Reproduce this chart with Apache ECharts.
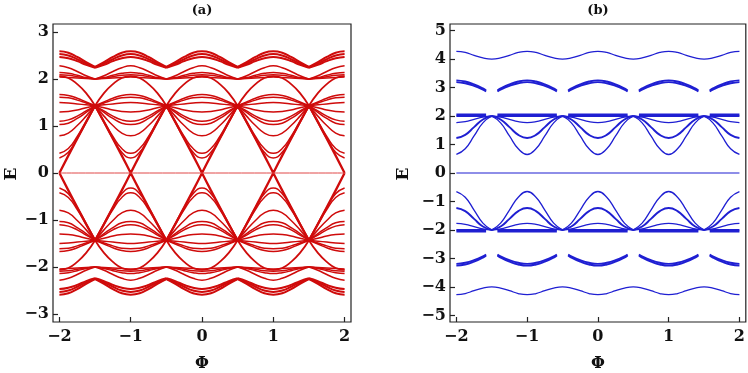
<!DOCTYPE html>
<html>
<head>
<meta charset="utf-8">
<script src="https://cdn.jsdelivr.net/npm/echarts@6/dist/echarts.min.js"></script>
<style>
  html, body { margin: 0; padding: 0; background: #fff; }
  #chart { width: 748px; height: 373px; }
</style>
</head>
<body>
<div id="chart"></div>
<script>
// samples are read at these distances from the nearest integer flux (one half period)
const dSteps = [0, 0.125, 0.25, 0.375, 0.5]

// ---- panel (a), upper half; the lower half is its mirror ----
const aTopBand = [
  [2.59, 2.56, 2.47, 2.36, 2.26],
  [2.53, 2.50, 2.42, 2.33, 2.25],
  [2.47, 2.44, 2.38, 2.30, 2.24]
]
const aTwoGroup = [
  [2.28, 2.24, 2.16, 2.07, 2.0],
  [2.14, 2.12, 2.08, 2.03, 2.0],
  [2.09, 2.08, 2.05, 2.02, 2.0],
  [2.04, 2.03, 2.02, 2.01, 2.0]
]
const aArch = [2.06, 2.02, 1.89, 1.70, 1.43]
const aMid = [
  [1.67, 1.65, 1.59, 1.51, 1.43],
  [1.61, 1.60, 1.55, 1.49, 1.43],
  [1.50, 1.49, 1.47, 1.45, 1.43],
  [1.30, 1.31, 1.34, 1.39, 1.43],
  [1.10, 1.13, 1.21, 1.32, 1.43],
  [1.03, 1.06, 1.16, 1.29, 1.43],
  [0.79, 0.85, 1.01, 1.21, 1.43],
  [0.42, 0.52, 0.78, 1.10, 1.43],
  [0.32, 0.44, 0.73, 1.07, 1.43]
]
const aCross = [0, 0.37, 0.73, 1.09, 1.43] // the X lines through E=0

// ---- panel (b), upper half ----
const bWave = [4.27, 4.23, 4.13, 4.04, 4.0]
const bArcD = [0, 0.125, 0.25, 0.375, 0.42]
const bArcs = [
  [3.25, 3.21, 3.11, 2.97, 2.90],
  [3.19, 3.15, 3.06, 2.93, 2.86]
]
const bFlat = [2.0, 2.05]
const bFlatEnd = 0.42
const bDips = [
  [1.77, 1.80, 1.88, 1.96, 2.0],
  [1.23, 1.34, 1.61, 1.88, 2.0],
  [0.65, 0.85, 1.30, 1.76, 2.0]
]

const periods = [-2, -1, 0, 1, 2]
const xTicks = [-2, -1, 0, 1, 2]
const yTicksA = [-3, -2, -1, 0, 1, 2, 3]
const yTicksB = [-5, -4, -3, -2, -1, 0, 1, 2, 3, 4, 5]

const red = '#cf0b0b'
const blue = '#1f1fd2'
const serif = 'DejaVu Serif'

function inRange(p) {
  return p >= -2.0001 && p <= 2.0001
}

// curve made of arches between the crossing points at half-integer flux
function arches(vals, ds, sign) {
  const pts = []
  periods.forEach(n => {
    const seg = []
    for (let i = ds.length - 1; i > 0; i--) seg.push([n - ds[i], vals[i]])
    for (let i = 0; i < ds.length; i++) seg.push([n + ds[i], vals[i]])
    seg.forEach(p => {
      if (inRange(p[0])) pts.push([p[0], sign * p[1]])
    })
    pts.push([n + 0.5, '-'])
  })
  return pts
}

// straight-ish lines crossing E=0 at every integer flux
function crossLines() {
  const pts = []
  periods.forEach(n => {
    ;[1, -1].forEach(s => {
      for (let i = dSteps.length - 1; i > 0; i--) {
        const p = n - dSteps[i]
        if (inRange(p)) pts.push([p, -s * aCross[i]])
      }
      for (let i = 0; i < dSteps.length; i++) {
        const p = n + dSteps[i]
        if (inRange(p)) pts.push([p, s * aCross[i]])
      }
      pts.push([n, '-'])
    })
  })
  return pts
}

// smooth periodic wave without cusps
function wave(vals, sign) {
  const pts = []
  for (let k = 0; k <= 32; k++) {
    const p = -2 + k * 0.125
    const d = Math.abs(p - Math.round(p))
    pts.push([p, sign * vals[Math.round(d / 0.125)]])
  }
  return pts
}

function flats(v, sign) {
  const pts = []
  periods.forEach(n => {
    pts.push([Math.max(-2, n - bFlatEnd), sign * v])
    pts.push([Math.min(2, n + bFlatEnd), sign * v])
    pts.push([n + 0.5, '-'])
  })
  return pts
}

function line(idx, data, color, width) {
  return {
    type: 'line',
    xAxisIndex: idx,
    yAxisIndex: idx,
    data: data,
    showSymbol: false,
    symbol: 'none',
    smooth: 0.5,
    connectNulls: false,
    silent: true,
    lineStyle: { color: color, width: width }
  }
}

const series = []
;[1, -1].forEach(s => {
  aTopBand.forEach(v => series.push(line(0, arches(v, dSteps, s), red, 2)))
  aTwoGroup.forEach(v => series.push(line(0, arches(v, dSteps, s), red, 1.5)))
  series.push(line(0, arches(aArch, dSteps, s), red, 1.8))
  aMid.forEach(v => series.push(line(0, arches(v, dSteps, s), red, 1.5)))

  series.push(line(1, wave(bWave, s), blue, 1.3))
  bArcs.forEach(v => series.push(line(1, arches(v, bArcD, s), blue, 1.9)))
  bFlat.forEach(v => series.push(line(1, flats(v, s), blue, 2)))
  bDips.forEach((v, i) => series.push(line(1, arches(v, dSteps, s), blue, i === 1 ? 1.9 : 1.3)))
})
series.push(line(0, crossLines(), red, 2.3))
series.push(line(0, [[-2, 0], [2, 0]], '#e04848', 1))
series.push(line(1, [[-2, 0], [2, 0]], blue, 1.2))

function fmt(v) {
  return v < 0 ? '\u2212' + (-v) : String(v)
}

function xAxisFor(idx) {
  return {
    type: 'value',
    gridIndex: idx,
    min: -2.09,
    max: 2.09,
    axisLine: { show: false, onZero: false },
    splitLine: { show: false },
    axisTick: { inside: true, length: 5, customValues: xTicks, lineStyle: { color: '#222', width: 1.2 } },
    axisLabel: {
      customValues: xTicks, formatter: fmt, margin: 7,
      fontFamily: serif, fontWeight: 'bold', fontSize: 16, color: '#111'
    }
  }
}

function yAxisFor(idx, lim, ticks) {
  return {
    type: 'value',
    gridIndex: idx,
    min: -lim,
    max: lim,
    axisLine: { show: false, onZero: false },
    splitLine: { show: false },
    axisTick: { inside: true, length: 5, customValues: ticks, lineStyle: { color: '#222', width: 1.2 } },
    axisLabel: {
      customValues: ticks, formatter: fmt, margin: 4,
      fontFamily: serif, fontWeight: 'bold', fontSize: 16, color: '#111'
    }
  }
}

function label(text, x, y, size, rot) {
  return {
    type: 'text',
    x: x,
    y: y,
    rotation: rot || 0,
    silent: true,
    style: {
      text: text,
      align: 'center',
      verticalAlign: 'middle',
      font: 'bold ' + size + 'px "' + serif + '"',
      fill: '#111'
    }
  }
}

const chart = echarts.init(document.getElementById('chart'))
chart.setOption({
  animation: false,
  backgroundColor: '#fff',
  grid: [
    { left: 53, top: 24, width: 298, height: 298, show: true, borderColor: '#222', borderWidth: 1.2 },
    { left: 450, top: 24, width: 297, height: 298, show: true, borderColor: '#222', borderWidth: 1.2 }
  ],
  xAxis: [xAxisFor(0), xAxisFor(1)],
  yAxis: [yAxisFor(0, 3.17, yTicksA), yAxisFor(1, 5.23, yTicksB)],
  graphic: [
    label('(a)', 202, 11, 13),
    label('(b)', 598, 11, 13),
    label('E', 12, 174, 17, Math.PI / 2),
    label('E', 404, 174, 17, Math.PI / 2),
    label('\u03A6', 202, 364, 16),
    label('\u03A6', 598, 364, 16)
  ],
  series: series
})
</script>
</body>
</html>
